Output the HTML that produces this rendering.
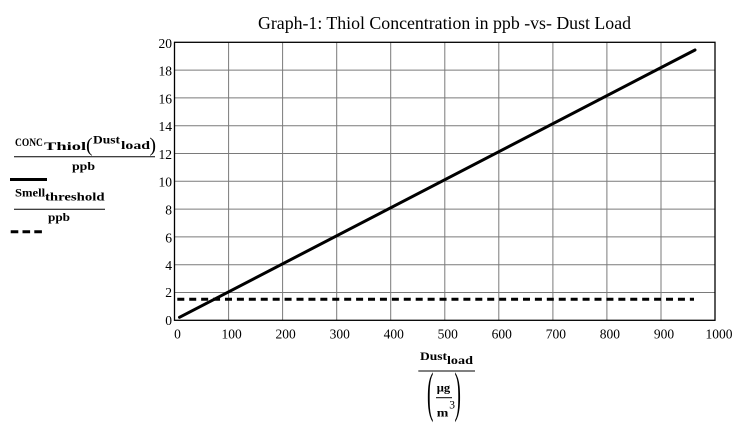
<!DOCTYPE html>
<html>
<head>
<meta charset="utf-8">
<style>
  html, body { margin: 0; padding: 0; background: #ffffff; }
  svg { display: block; }
  text { font-family: "Liberation Serif", "Times New Roman", serif; fill: #000; }
  .tick { font-size: 13.5px; }
  .b { font-weight: bold; font-size: 12px; }
</style>
</head>
<body>
<svg width="749" height="423" viewBox="0 0 749 423" xmlns="http://www.w3.org/2000/svg">
  <rect x="0" y="0" width="749" height="423" fill="#ffffff"/>

  <!-- Title -->
  <text x="258" y="29" font-size="18" textLength="373" lengthAdjust="spacingAndGlyphs">Graph-1: Thiol Concentration in ppb -vs- Dust Load</text>

  <!-- Grid -->
  <g stroke="#7a7a7a" stroke-width="1">
    <line x1="228.6" y1="42.3" x2="228.6" y2="320.3"/>
    <line x1="282.6" y1="42.3" x2="282.6" y2="320.3"/>
    <line x1="336.7" y1="42.3" x2="336.7" y2="320.3"/>
    <line x1="390.7" y1="42.3" x2="390.7" y2="320.3"/>
    <line x1="444.8" y1="42.3" x2="444.8" y2="320.3"/>
    <line x1="498.8" y1="42.3" x2="498.8" y2="320.3"/>
    <line x1="552.9" y1="42.3" x2="552.9" y2="320.3"/>
    <line x1="606.9" y1="42.3" x2="606.9" y2="320.3"/>
    <line x1="661.0" y1="42.3" x2="661.0" y2="320.3"/>
    <line x1="174.5" y1="70.1" x2="715" y2="70.1"/>
    <line x1="174.5" y1="97.9" x2="715" y2="97.9"/>
    <line x1="174.5" y1="125.7" x2="715" y2="125.7"/>
    <line x1="174.5" y1="153.5" x2="715" y2="153.5"/>
    <line x1="174.5" y1="181.3" x2="715" y2="181.3"/>
    <line x1="174.5" y1="209.1" x2="715" y2="209.1"/>
    <line x1="174.5" y1="236.9" x2="715" y2="236.9"/>
    <line x1="174.5" y1="264.7" x2="715" y2="264.7"/>
    <line x1="174.5" y1="292.5" x2="715" y2="292.5"/>
  </g>

  <!-- Plot border -->
  <rect x="174.5" y="42.3" width="540.5" height="278" fill="none" stroke="#000" stroke-width="1.3"/>

  <!-- Y tick labels -->
  <g class="tick" text-anchor="end">
    <text x="172" y="48">20</text>
    <text x="172" y="75.5">18</text>
    <text x="172" y="103.3">16</text>
    <text x="172" y="131.1">14</text>
    <text x="172" y="158.9">12</text>
    <text x="172" y="186.7">10</text>
    <text x="172" y="214.5">8</text>
    <text x="172" y="242.3">6</text>
    <text x="172" y="270.1">4</text>
    <text x="172" y="297.2">2</text>
    <text x="172" y="325">0</text>
  </g>

  <!-- X tick labels -->
  <g class="tick" text-anchor="middle">
    <text x="177.5" y="338.3">0</text>
    <text x="231.6" y="338.3">100</text>
    <text x="285.6" y="338.3">200</text>
    <text x="339.7" y="338.3">300</text>
    <text x="393.7" y="338.3">400</text>
    <text x="447.8" y="338.3">500</text>
    <text x="501.8" y="338.3">600</text>
    <text x="555.9" y="338.3">700</text>
    <text x="609.9" y="338.3">800</text>
    <text x="664" y="338.3">900</text>
    <text x="719" y="338.3">1000</text>
  </g>

  <!-- Threshold dashed line -->
  <line x1="177.3" y1="299.3" x2="694" y2="299.3" stroke="#000" stroke-width="3" stroke-dasharray="7 4.92"/>

  <!-- Concentration line -->
  <line x1="179.5" y1="317.3" x2="695" y2="50" stroke="#000" stroke-width="3" stroke-linecap="round"/>

  <!-- Legend: CONC -->
  <text class="b" transform="translate(15,146) scale(0.79,1)">CONC</text>
  <text class="b" transform="translate(44,150) scale(1.54,1)">Thiol</text>
  <text x="86" y="151.5" font-size="20">(</text>
  <text class="b" transform="translate(93,143.3) scale(1.125,1)">Dust</text>
  <text class="b" transform="translate(121,149) scale(1.32,1)">load</text>
  <text x="149.4" y="151.5" font-size="20">)</text>
  <line x1="14" y1="156.7" x2="155" y2="156.7" stroke="#000" stroke-width="1"/>
  <text class="b" transform="translate(72,170) scale(1.15,1)">ppb</text>
  <line x1="10" y1="179.5" x2="47" y2="179.5" stroke="#000" stroke-width="3"/>

  <!-- Legend: Smell threshold -->
  <text class="b" transform="translate(15,196.7) scale(1.05,1)">Smell</text>
  <text class="b" transform="translate(45,200.7) scale(1.23,1)">threshold</text>
  <line x1="14" y1="209.3" x2="105" y2="209.3" stroke="#000" stroke-width="1"/>
  <text class="b" transform="translate(48,221) scale(1.1,1)">ppb</text>
  <line x1="10.7" y1="231.7" x2="42" y2="231.7" stroke="#000" stroke-width="3" stroke-dasharray="7.6 4.2"/>

  <!-- X axis label -->
  <text class="b" transform="translate(420,360) scale(1.125,1)">Dust</text>
  <text class="b" transform="translate(447,364) scale(1.18,1)">load</text>
  <line x1="418.3" y1="371" x2="475" y2="371" stroke="#000" stroke-width="1"/>
  <text transform="translate(427,410.3) scale(0.35,1)" font-size="55">(</text>
  <text class="b" transform="translate(436.7,391.7) scale(1.05,1)">μg</text>
  <line x1="436" y1="397.7" x2="452" y2="397.7" stroke="#000" stroke-width="1"/>
  <text class="b" transform="translate(436.7,416.7) scale(1.16,1)">m</text>
  <text x="449.3" y="408.5" font-size="11.5">3</text>
  <text transform="translate(454.5,410.3) scale(0.35,1)" font-size="55">)</text>
</svg>
</body>
</html>
